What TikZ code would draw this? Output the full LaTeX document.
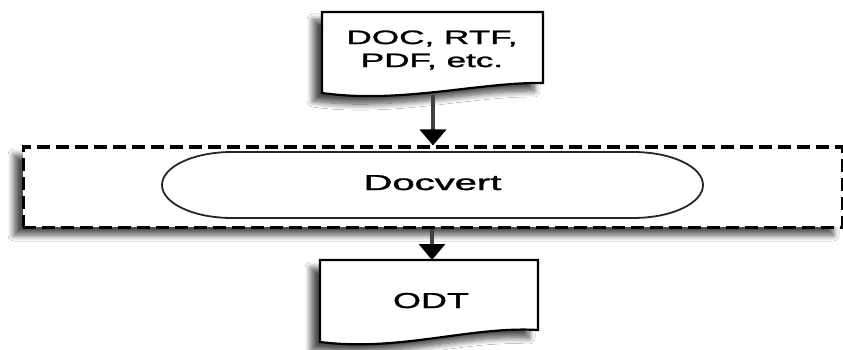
\documentclass[tikz,border=0pt]{standalone}
\usepackage{fontspec}
\setmainfont{Liberation Sans}
\newfontfamily\hvfont[FakeBold=1.2]{Liberation Sans}
\usetikzlibrary{shadows.blur,arrows.meta}
\begin{document}
\begin{tikzpicture}[x=1pt,y=-1pt,
  sh/.style={blur shadow={shadow xshift=-9pt, shadow yshift=-8pt, shadow blur steps=10, shadow blur radius=6pt, shadow opacity=70}},
  docshape/.style={draw=black, line width=2.2pt, fill=white, sh},
  dashbox/.style={draw=black, line width=3pt, dash pattern=on 13pt off 6pt, fill=white, sh, inner sep=0pt},
  term/.style={draw=black!85, line width=1.8pt, fill=white},
  arr/.style={draw=black!75, line width=3.5pt, -{Triangle[width=26pt,length=16pt,color=black]}},
  lbl/.style={inner sep=0pt, align=center}]
\useasboundingbox (0,0) rectangle (843,350);
\fill[white] (0,0) rectangle (843,350);
% source document
\path[docshape] (322,12) -- (543,12) -- (543,83) .. controls (480,82) and (400,104) .. (322,93) -- cycle;
\node[lbl, font=\hvfont\fontsize{18}{23}\selectfont] (src) at (432,50) {\scalebox{1.95}[1.08]{DOC, RTF,}\\\scalebox{1.95}[1.08]{PDF, etc.}};
\coordinate (srcb) at (433,95);
% dashed container
\node[dashbox, minimum width=819pt, minimum height=80pt] (box) at (432.5,187) {};
% terminator
\path[term] (232,152) -- (633,152) arc[start angle=90, end angle=-90, x radius=70pt, y radius=33pt] -- (232,218) arc[start angle=270, end angle=90, x radius=70pt, y radius=33pt] -- cycle;
\node[lbl, font=\hvfont\fontsize{20}{24}\selectfont, anchor=base] (dv) at (432.5,190) {\scalebox{2.0}[1.08]{Docvert}};
% output document
\path[docshape] (320,260) -- (538,260) -- (538,330) .. controls (470,326) and (400,352) .. (320,342) -- cycle;
\node[lbl, font=\hvfont\fontsize{20}{24}\selectfont, anchor=base] (odt) at (431,308) {\scalebox{1.8}[1.08]{ODT}};
\coordinate (odtt) at (432,260);
% connectors
\draw[arr] (srcb) -- (box.north -| srcb);
\draw[arr] (box.south -| odtt) -- (odtt);
\end{tikzpicture}
\end{document}
